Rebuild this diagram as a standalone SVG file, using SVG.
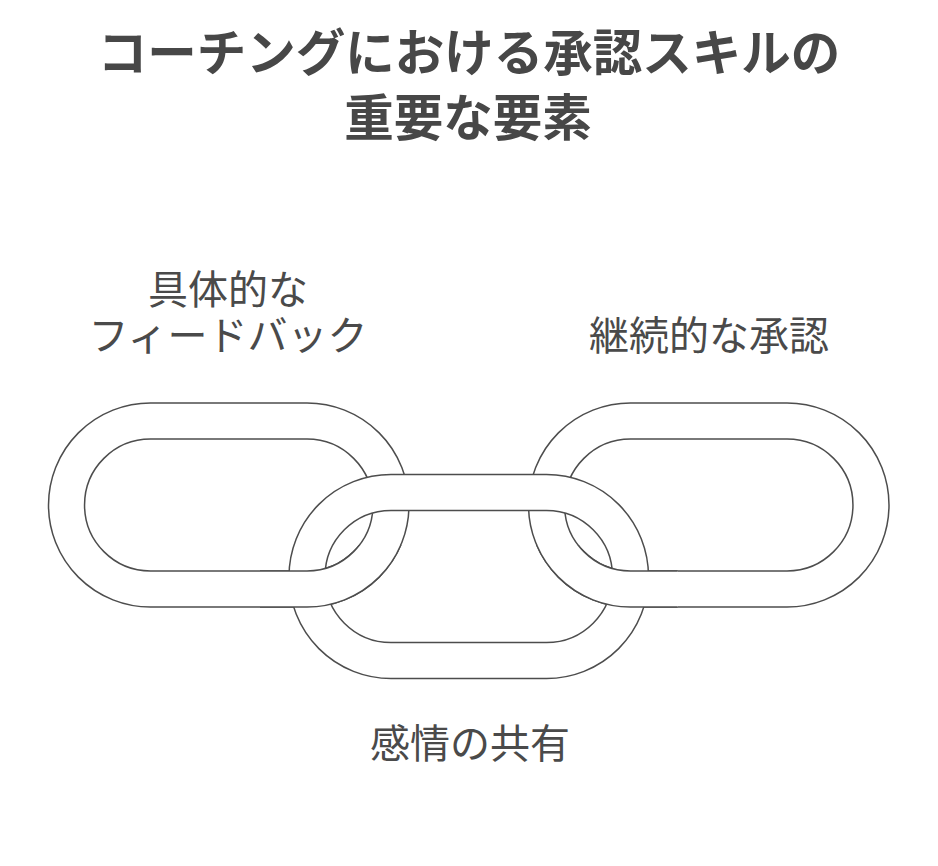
<svg xmlns="http://www.w3.org/2000/svg" xmlns:xlink="http://www.w3.org/1999/xlink" width="938" height="866" viewBox="0 0 938 866">
<style>
.ring{fill:#ffffff;fill-rule:evenodd;stroke:#4d4d4d;stroke-width:1.5}
.title{font-family:"Noto Sans CJK JP","Noto Sans",sans-serif;font-weight:bold;font-size:49.5px;fill:#474747;text-anchor:middle}
.lbl{font-family:"Noto Sans CJK JP","Noto Sans",sans-serif;font-size:40px;fill:#4a4a4a;text-anchor:middle}
</style>
<defs>
<path id="linkL" d="M150.5,403 H307 A102,102 0 0 1 307,607 H150.5 A102,102 0 0 1 150.5,403 Z M150.5,439 H307 A66,66 0 0 1 307,571 H150.5 A66,66 0 0 1 150.5,439 Z"/>
<path id="linkR" d="M630.5,403 H787 A102,102 0 0 1 787,607 H630.5 A102,102 0 0 1 630.5,403 Z M630.5,439 H787 A66,66 0 0 1 787,571 H630.5 A66,66 0 0 1 630.5,439 Z"/>
<clipPath id="clipL"><rect x="260" y="545" width="170" height="80"/></clipPath>
<clipPath id="clipR"><rect x="507.5" y="545" width="170" height="80"/></clipPath>
</defs>
<rect width="938" height="866" fill="#ffffff"/>
<g id="title">
<text class="title" x="469" y="71">コーチングにおける承認スキルの</text>
<text class="title" x="468" y="136">重要な要素</text>
</g>
<g id="link-feedback">
<use xlink:href="#linkL" class="ring"/>
</g>
<g id="link-continuous">
<use xlink:href="#linkR" class="ring"/>
</g>
<g id="link-emotion">
<path class="ring" d="M391,474.5 H546.5 A102,102 0 0 1 546.5,678.5 H391 A102,102 0 0 1 391,474.5 Z M391,510.5 H546.5 A66,66 0 0 1 546.5,642.5 H391 A66,66 0 0 1 391,510.5 Z"/>
</g>
<g id="link-overlaps">
<use xlink:href="#linkL" class="ring" clip-path="url(#clipL)"/>
<use xlink:href="#linkR" class="ring" clip-path="url(#clipR)"/>
</g>
<g id="label-feedback">
<text class="lbl" x="228" y="304">具体的な</text>
<text class="lbl" x="228" y="350">フィードバック</text>
</g>
<g id="label-continuous">
<text class="lbl" x="709" y="350">継続的な承認</text>
</g>
<g id="label-emotion">
<text class="lbl" x="470" y="758">感情の共有</text>
</g>
</svg>
